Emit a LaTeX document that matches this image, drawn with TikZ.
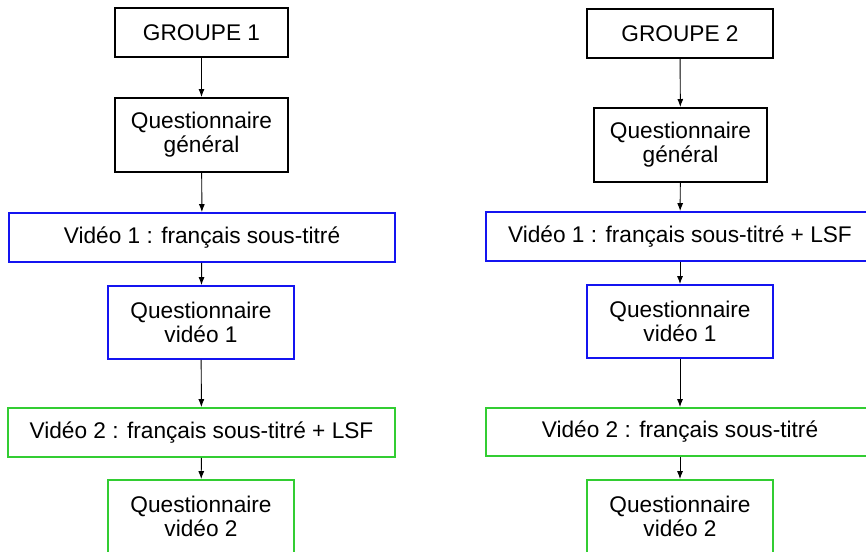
\documentclass[tikz,border=0pt]{standalone}
\usepackage{fontspec}
\setmainfont{Liberation Sans}
\usepackage{tikz}
\usetikzlibrary{arrows.meta,%
                positioning}

\definecolor{vidblue}{RGB}{20,20,240}
\definecolor{vidgreen}{RGB}{50,205,50}

\tikzset{
  box/.style={draw, line width=1.5pt, align=center, inner sep=0pt,
              font=\fontsize{17}{18}\selectfont},
  etape/.style={box, black},
  bleu/.style={box, draw=vidblue, line width=1.3pt},
  vert/.style={box, draw=vidgreen, line width=1.3pt},
  fleche/.style={-{Latex[length=6pt,width=4.5pt]}, line width=0.7pt}
}

\begin{document}
\begin{tikzpicture}[x=0.75pt,y=-0.75pt]
\clip (0,0) rectangle (866,551);
%\draw[help lines] (0,0) grid[step=50] (866,551);
\node[etape, minimum width=129.75pt, minimum height=36.75pt] (GA) at (201.5,32.5) {GROUPE 1};
\node[etape, minimum width=129.75pt, minimum height=55.5pt] (QGA) at (201.5,135) {Questionnaire\\général};
\node[bleu, minimum width=289.5pt, minimum height=36.75pt] (VUA) at (202,237.5) {Vidéo 1 : français sous-titré};
\node[bleu, minimum width=139.5pt, minimum height=54.75pt] (QUA) at (201,322.5) {Questionnaire\\vidéo 1};
\node[vert, minimum width=290.25pt, minimum height=36.75pt] (VDA) at (201.5,432.5) {Vidéo 2 : français sous-titré + LSF};
\node[vert, minimum width=139.5pt, minimum height=54.75pt] (QDA) at (201,516.5) {Questionnaire\\vidéo 2};

\node[etape, minimum width=139.5pt, minimum height=36.75pt] (GB) at (680,33.5) {GROUPE 2};
\node[etape, minimum width=129.75pt, minimum height=55.5pt] (QGB) at (680.5,145) {Questionnaire\\général};
\node[bleu, minimum width=291pt, minimum height=36.75pt] (VUB) at (680,236.5) {Vidéo 1 : français sous-titré + LSF};
\node[bleu, minimum width=139.5pt, minimum height=54.75pt] (QUB) at (680,321.5) {Questionnaire\\vidéo 1};
\node[vert, minimum width=291pt, minimum height=36pt] (VDB) at (680,432) {Vidéo 2 : français sous-titré};
\node[vert, minimum width=139.5pt, minimum height=54.75pt] (QDB) at (680,516.5) {Questionnaire\\vidéo 2};

\draw[fleche] (GA) -- (QGA);
\draw[fleche] (QGA) -- (VUA);
\draw[fleche] (VUA) -- (QUA);
\draw[fleche] (QUA) -- (VDA);
\draw[fleche] (VDA) -- (QDA);

\draw[fleche] (GB) -- (QGB);
\draw[fleche] (QGB) -- (VUB);
\draw[fleche] (VUB) -- (QUB);
\draw[fleche] (QUB) -- (VDB);
\draw[fleche] (VDB) -- (QDB);
\end{tikzpicture}
\end{document}
